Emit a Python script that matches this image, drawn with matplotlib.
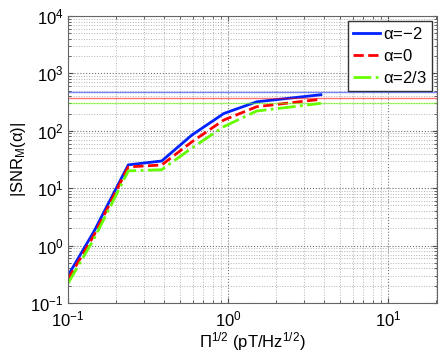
import numpy as np
import matplotlib
matplotlib.use("Agg")
from matplotlib import pyplot as plt

plt.rcParams['font.family'] = ['Liberation Sans', 'DejaVu Sans']
plt.rcParams['mathtext.fontset'] = 'custom'
plt.rcParams['mathtext.rm'] = 'Liberation Sans'
plt.rcParams['mathtext.it'] = 'Liberation Sans'

# Data
pi_sqrt = [0.1, 0.145, 0.238, 0.385, 0.593, 0.94, 1.51, 3.8]
snr_m2 = [0.30, 1.75, 25.5, 29.8, 84.0, 200.0, 320.0, 425.0]
snr_0 = [0.26, 1.5, 23.5, 25.4, 64.0, 154.0, 263.0, 354.0]
snr_23 = [0.22, 1.3, 20.0, 21.0, 50.0, 118.0, 221.0, 301.0]

# asymptotic levels (thin horizontal lines)
limits = [474.0, 368.0, 309.0]

labels = [r'$\alpha$=$-$2', r'$\alpha$=0', r'$\alpha$=2/3']
colors = ['#0022ff', '#ff0000', '#66ff00']
styles = ['-', '--', '-.']

fig = plt.figure(figsize=(4.43, 3.53), dpi=100)
ax = fig.add_axes([0.1535, 0.1416, 0.833, 0.8131])

for series, col, ls, lab in zip([snr_m2, snr_0, snr_23], colors, styles, labels):
    ax.plot(pi_sqrt, series, ls, color=col, linewidth=2, label=lab)

for lvl, col in zip(limits, colors):
    ax.axhline(lvl, color=col, linewidth=1, alpha=0.55)

ax.set_xscale('log')
ax.set_yscale('log')
ax.set_xlim(0.1, 20.2)
ax.set_ylim(1e-1, 1e4)

ax.grid(True, which='major', linestyle=':', color='0.45', linewidth=0.8)
ax.grid(True, which='minor', linestyle=':', color='0.7', linewidth=0.7)
ax.tick_params(which='both', direction='in', top=True, right=True,
               colors='0.3', labelcolor='black', labelsize=12)
ax.tick_params(axis='x', which='major', pad=5)
ax.tick_params(axis='y', which='major', pad=3)
for sp in ax.spines.values():
    sp.set_color('0.4')

ax.set_xlabel(r'$\Pi^{1/2}$ (pT/Hz$^{1/2}$)', fontsize=12)
ax.xaxis.set_label_coords(0.5, -0.095, transform=ax.transAxes)
ax.xaxis.label.set_va('top')
ax.set_ylabel(r'|SNR$_\mathrm{M}$($\alpha$)|', fontsize=12, labelpad=2)

leg = ax.legend(loc='upper right', fontsize=12, fancybox=False,
                framealpha=1, edgecolor='0.2', borderaxespad=0.3,
                handlelength=1.6, handletextpad=0.2, labelspacing=0.35,
                borderpad=0.3)
leg.get_frame().set_linewidth(1.0)

fig.savefig('out.png', dpi=100)
